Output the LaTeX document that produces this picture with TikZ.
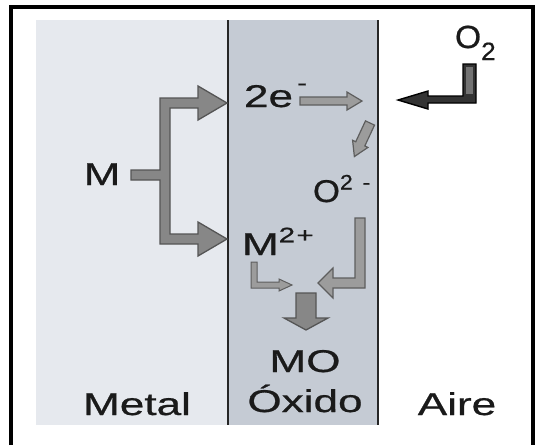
\documentclass[tikz,border=0pt]{standalone}
\usepackage{fontspec}
\setmainfont[FakeBold=0.6]{Liberation Sans}
\usepackage{graphicx}
\definecolor{metalc}{HTML}{E6E9EE}
\definecolor{oxc}{HTML}{C5CBD4}
\definecolor{txtc}{HTML}{1A1A1A}
\definecolor{arrA}{HTML}{878787}
\definecolor{arrAo}{HTML}{555555}
\definecolor{arrB}{HTML}{9C9C9C}
\definecolor{arrBo}{HTML}{5E5E5E}
\newcommand\sx[2]{\scalebox{#1}[1]{#2}}
\newcommand\smallsz{\fontsize{21}{21}\selectfont}
\begin{document}
\begin{tikzpicture}[x=1pt,y=-1pt,
  lbl/.style={inner sep=0pt, outer sep=0pt, anchor=base, text=txtc, font=\fontsize{31.5}{31.5}\selectfont},
  blockA/.style={fill=arrA, draw=arrAo, line width=1.3pt, line join=miter},
  blockB/.style={fill=arrB, draw=arrBo, line width=1.2pt, line join=miter},
  frameline/.style={line width=4pt, black}]
\useasboundingbox (0,0) rectangle (535,445);
\fill[white] (0,0) rectangle (535,445);
% regions
\fill[metalc] (36,20) rectangle (228,425);
\fill[oxc] (228,20) rectangle (378,425);
\draw[line width=2.4pt, black!85] (228,20) -- (228,425);
\draw[line width=2.4pt, black!85] (378,20) -- (378,425);
% frame
\draw[frameline] (11,445) -- (11,7) -- (533,7) -- (533,445);
% labels
\node[lbl] (metal) at (137,415) {\sx{1.4}{Metal}};
\node[lbl] (aire) at (457,415) {\sx{1.4}{Aire}};
\node[lbl] (oxido) at (305,412) {\sx{1.4}{Óxido}};
\node[lbl] (mo) at (305,372) {\sx{1.4}{MO}};
\node[lbl] (m) at (102,185) {\sx{1.4}{M}};
\node[lbl, anchor=base west] (e2) at (244,107) {\sx{1.4}{2e\kern3pt\raisebox{17pt}{\smallsz -}}};
\node[lbl, anchor=base west] (o2m) at (313,202) {\sx{1.1}{O\raisebox{12.5pt}{\smallsz 2\kern9pt-}}};
\node[lbl, anchor=base west] (m2p) at (242,255) {\sx{1.4}{M\raisebox{12.7pt}{\smallsz 2\kern1pt+}}};
\node[lbl, anchor=base west, font=\fontsize{32}{32}\selectfont] (o2) at (455,48) {\sx{1.05}{O\raisebox{-12pt}{\fontsize{25}{25}\selectfont 2}}};
% fork from M
\draw[blockA] (131,170) -- (160,170) -- (160,98) -- (198,98) -- (198,86) -- (227,103) -- (198,120) -- (198,108) -- (170,108) -- (170,234) -- (198,234) -- (198,222) -- (227,239) -- (198,256) -- (198,244) -- (160,244) -- (160,180) -- (131,180) -- cycle;
% electron arrow
\draw[blockB] (300,97) -- (347,97) -- (347,92) -- (362,101) -- (347,110) -- (347,105) -- (300,105) -- cycle;
% diagonal arrow
\begin{scope}[shift={(370,123)}, rotate=-115]
\draw[blockB] (0,-5) -- (23,-5) -- (23,-8.5) -- (37,0) -- (23,8.5) -- (23,5) -- (0,5) -- cycle;
\end{scope}
% L arrow from O2-
\draw[blockB] (355,218) -- (365,218) -- (365,288) -- (333,288) -- (333,298) -- (318,283) -- (333,268) -- (333,278) -- (355,278) -- cycle;
% small L arrow from M2+
\draw[blockB, line width=1pt] (251,262) -- (257,262) -- (257,282) -- (279,282) -- (279,279) -- (292,285) -- (279,291) -- (279,288) -- (251,288) -- cycle;
% down arrow to MO
\draw[blockA] (296,293) -- (316,293) -- (316,318) -- (328,318) -- (306,330) -- (284,318) -- (296,318) -- cycle;
% O2 arrow
\draw[fill=black!80, draw=black, line width=1.4pt, line join=miter] (463,64) -- (476,64) -- (476,103) -- (428,103) -- (428,109) -- (398,100) -- (428,91) -- (428,96) -- (463,96) -- cycle;
\fill[black!55] (466,67) rectangle (473,94);
\end{tikzpicture}
\end{document}
